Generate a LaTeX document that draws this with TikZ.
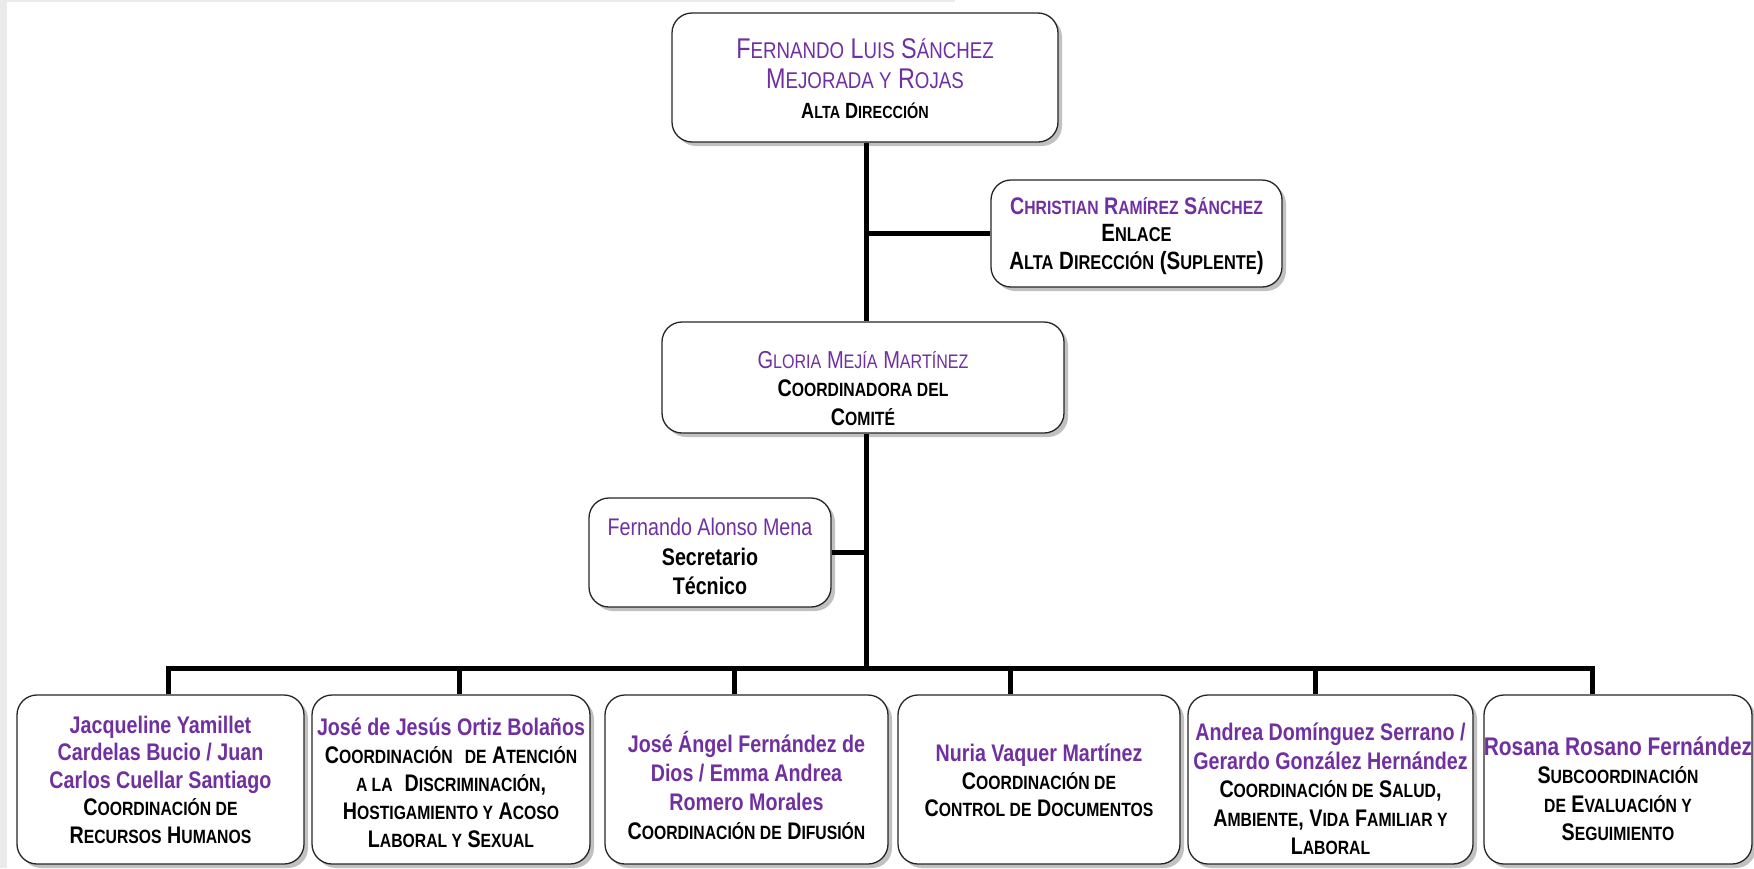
\documentclass[tikz,border=0pt]{standalone}
\usepackage{fontspec}
\setmainfont{Liberation Sans}[FakeStretch=0.82]
\usetikzlibrary{shadows}
\definecolor{pur}{HTML}{7030A0}
\definecolor{bandgray}{HTML}{EBEBEB}
\makeatletter
\newcommand\sm[1]{{\fontsize{\the\dimexpr\f@size pt*80/100\relax}{\f@baselineskip}\selectfont #1}}
\makeatother
\newcommand\nmb[1]{\textcolor{pur}{\bfseries #1}}
\newcommand\nmr[1]{\textcolor{pur}{#1}}
\newcommand\ds[1]{{\bfseries #1}}
\tikzset{
  box/.style={draw=black!85, line width=1.3pt, rounded corners=20pt, fill=white,
    inner sep=0pt, drop shadow={shadow xshift=4pt, shadow yshift=-4pt, fill=black!40, opacity=0.6}},
  txt/.style={align=center, inner sep=0pt, text=black},
  wire/.style={line width=5pt, black, line join=miter}
}
\begin{document}
\begin{tikzpicture}[x=1pt,y=-1pt]
\useasboundingbox (0,0) rectangle (1754,868);
\fill[white] (0,0) rectangle (1754,868);
\fill[bandgray] (0,0) rectangle (7,868);
\fill[bandgray] (0,0) rectangle (955,2);

% boxes
\node[box, minimum width=386pt, minimum height=129pt] (top) at (865,77.5) {};
\node[box, minimum width=291pt, minimum height=107pt] (chris) at (1136.5,233.5) {};
\node[box, minimum width=402pt, minimum height=111pt] (gloria) at (863,377.5) {};
\node[box, minimum width=242pt, minimum height=109pt] (fa) at (710,552.5) {};
\node[box, minimum width=287pt, minimum height=169pt] (b1) at (160.5,779.5) {};
\node[box, minimum width=278pt, minimum height=169pt] (b2) at (451,779.5) {};
\node[box, minimum width=283pt, minimum height=169pt] (b3) at (746.5,779.5) {};
\node[box, minimum width=282pt, minimum height=169pt] (b4) at (1039,779.5) {};
\node[box, minimum width=285pt, minimum height=169pt] (b5) at (1330.5,779.5) {};
\node[box, minimum width=268pt, minimum height=169pt] (b6) at (1618,779.5) {};

% texts
\node[txt, font=\fontsize{28.5}{30}\selectfont] (ttop) at (865,79)
  {\nmr{F\sm{ERNANDO} L\sm{UIS} S\sm{ÁNCHEZ}}\\
   \nmr{M\sm{EJORADA Y} R\sm{OJAS}}\\
   {\fontsize{22}{30}\selectfont\ds{A\sm{LTA} D\sm{IRECCIÓN}}}};
\node[txt, font=\fontsize{25}{27.5}\selectfont] (tchris) at (1136.5,236)
  {{\fontsize{24}{27.5}\selectfont\nmb{C\sm{HRISTIAN} R\sm{AMÍREZ} S\sm{ÁNCHEZ}}}\\
   \ds{E\sm{NLACE}}\\
   \ds{A\sm{LTA} D\sm{IRECCIÓN} (S\sm{UPLENTE})}};
\node[txt, font=\fontsize{24}{28.5}\selectfont] (tgloria) at (863,388.5)
  {{\fontsize{24.5}{28.5}\selectfont\nmr{G\sm{LORIA} M\sm{EJÍA} M\sm{ARTÍNEZ}}}\\
   \ds{C\sm{OORDINADORA DEL}}\\
   \ds{C\sm{OMITÉ}}};
\node[txt, font=\fontsize{24}{29.5}\selectfont] (tfa) at (710,556.5)
  {\nmr{Fernando Alonso Mena}\\
   \ds{Secretario}\\
   \ds{Técnico}};
\node[txt, font=\fontsize{24}{27.5}\selectfont] (tb1) at (160.5,779.5)
  {\nmb{Jacqueline Yamillet}\\
   \nmb{Cardelas Bucio / Juan}\\
   \nmb{Carlos Cuellar Santiago}\\
   \ds{C\sm{OORDINACIÓN DE}}\\
   \ds{R\sm{ECURSOS} H\sm{UMANOS}}};
\node[txt, font=\fontsize{24}{28}\selectfont] (tb2) at (451,783)
  {\nmb{José de Jesús Ortiz Bolaños}\\
   \ds{C\sm{OORDINACIÓN}\enspace\sm{DE} A\sm{TENCIÓN}}\\
   \ds{\sm{A LA}\enspace D\sm{ISCRIMINACIÓN},}\\
   \ds{H\sm{OSTIGAMIENTO Y} A\sm{COSO}}\\
   \ds{L\sm{ABORAL Y} S\sm{EXUAL}}};
\node[txt, font=\fontsize{24}{29}\selectfont] (tb3) at (746.5,785.5)
  {\nmb{José Ángel Fernández de}\\
   \nmb{Dios / Emma Andrea}\\
   \nmb{Romero Morales}\\
   \ds{C\sm{OORDINACIÓN DE} D\sm{IFUSIÓN}}};
\node[txt, font=\fontsize{24}{27.5}\selectfont] (tb4) at (1039,780.5)
  {\nmb{Nuria Vaquer Martínez}\\
   \ds{C\sm{OORDINACIÓN DE}}\\
   \ds{C\sm{ONTROL DE} D\sm{OCUMENTOS}}};
\node[txt, font=\fontsize{24}{28.5}\selectfont] (tb5) at (1330.5,789)
  {\nmb{Andrea Domínguez Serrano /}\\
   \nmb{Gerardo González Hernández}\\
   \ds{C\sm{OORDINACIÓN DE} S\sm{ALUD},}\\
   \ds{A\sm{MBIENTE}, V\sm{IDA} F\sm{AMILIAR Y}}\\
   \ds{L\sm{ABORAL}}};
\node[txt, font=\fontsize{24}{28.5}\selectfont] (tb6) at (1618,789)
  {{\fontsize{25.5}{28.5}\selectfont\nmb{Rosana Rosano Fernández}}\\
   \ds{S\sm{UBCOORDINACIÓN}}\\
   \ds{\sm{DE} E\sm{VALUACIÓN Y}}\\
   \ds{S\sm{EGUIMIENTO}}};

% connectors
\coordinate (spine) at (866,668);
\coordinate (d1) at (168,668);
\coordinate (d2) at (459,668);
\coordinate (d3) at (734,668);
\coordinate (d4) at (1010,668);
\coordinate (d5) at (1315,668);
\coordinate (d6) at (1592,668);
\draw[wire] (top.south -| spine) -- (gloria.north -| spine);
\draw[wire] (chris.west -| spine) -- (chris.west);
\draw[wire] (gloria.south -| spine) -- (spine);
\draw[wire] (fa.east) -- (fa.east -| spine);
\draw[wire] (d1 |- b1.north) -- (d1) -- (d6) -- (d6 |- b6.north);
\draw[wire] (d2) -- (d2 |- b2.north);
\draw[wire] (d3) -- (d3 |- b3.north);
\draw[wire] (d4) -- (d4 |- b4.north);
\draw[wire] (d5) -- (d5 |- b5.north);
\end{tikzpicture}
\end{document}
